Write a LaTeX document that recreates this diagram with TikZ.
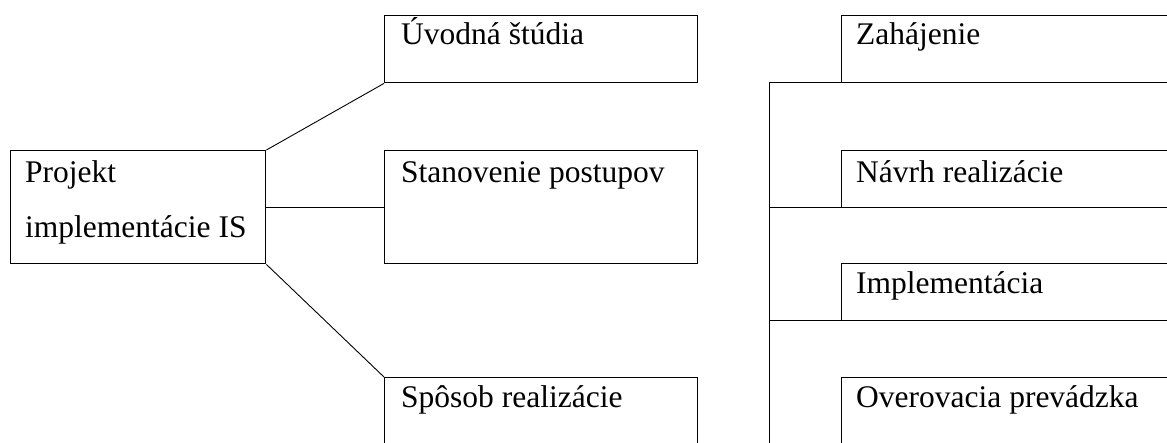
\documentclass[tikz,border=0pt]{standalone}
\usepackage{fontspec}
\setmainfont{Liberation Serif}
\begin{document}
\begin{tikzpicture}[x=1pt,y=-1pt,
  boxline/.style={line width=1.4pt},
  conn/.style={line width=0.9pt},
  hconn/.style={line width=1.3pt},
  box/.style={draw,boxline,rectangle,inner sep=0pt,anchor=north west},
  lbl/.style={inner sep=0pt,anchor=base west,font=\fontsize{31.5}{38}\selectfont}]
\useasboundingbox (0,0) rectangle (1167,442);
\clip (0,0) rectangle (1167,442);
% left box
\node[box,minimum width=255pt,minimum height=113pt] (proj) at (10,150) {};
\node[lbl] (projA) at (25,182) {Projekt};
\node[lbl] (projB) at (25,237) {implementácie IS};
% middle boxes
\node[box,minimum width=313pt,minimum height=67pt] (uvod) at (384,15) {};
\node[lbl] (uvodT) at (401,44) {Úvodná štúdia};
\node[box,minimum width=313pt,minimum height=113pt] (stan) at (384,150) {};
\node[lbl] (stanT) at (401,182) {Stanovenie postupov};
\node[box,minimum width=313pt,minimum height=120pt] (spos) at (384,377) {};
\node[lbl] (sposT) at (401,407) {Spôsob realizácie};
% connectors
\draw[conn] (proj.north east) -- (uvod.south west);
\draw[hconn] (proj.east) -- (stan.west);
\draw[conn] (proj.south east) -- (spos.north west);
% right side
\node[box,minimum width=400pt,minimum height=67pt] (zah) at (841,15) {};
\node[lbl] (zahT) at (856,44) {Zahájenie};
\node[box,minimum width=460pt,minimum height=125pt] (f1) at (769,82) {};
\node[box,minimum width=460pt,minimum height=113pt] (f2) at (769,207) {};
\node[box,minimum width=460pt,minimum height=150pt] (f3) at (769,320) {};
\node[box,minimum width=400pt,minimum height=57pt] (navr) at (841,150) {};
\node[lbl] (navrT) at (856,182) {Návrh realizácie};
\node[box,minimum width=400pt,minimum height=57pt] (impl) at (841,263) {};
\node[lbl] (implT) at (856,293) {Implementácia};
\node[box,minimum width=400pt,minimum height=120pt] (over) at (841,377) {};
\node[lbl] (overT) at (856,407) {Overovacia prevádzka};
\end{tikzpicture}
\end{document}
